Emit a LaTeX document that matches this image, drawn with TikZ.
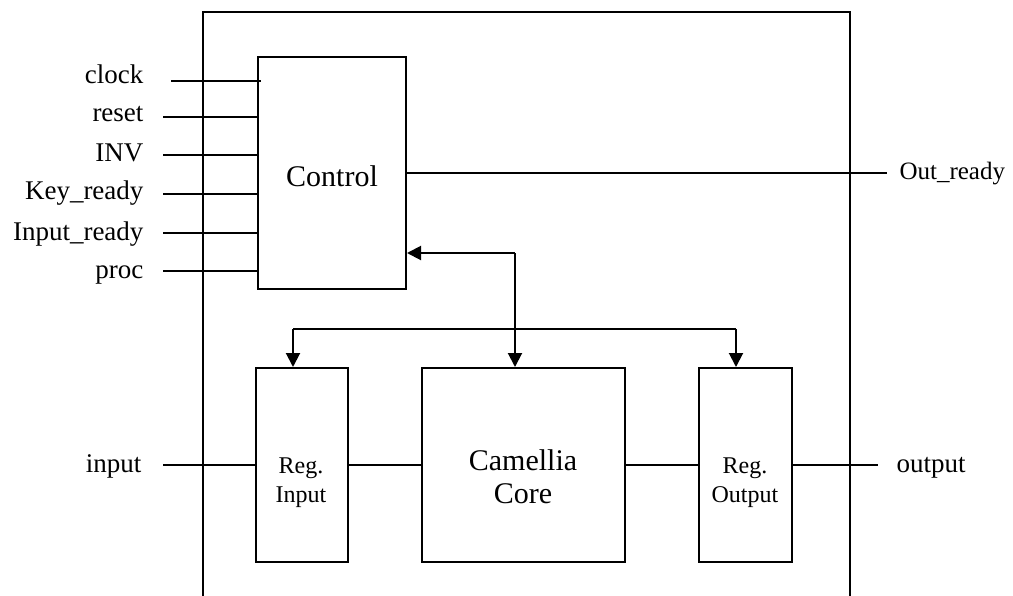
\documentclass[tikz,border=0pt]{standalone}
\usepackage{fontspec}
\setmainfont{Liberation Serif}
\usetikzlibrary{arrows.meta}

\newcommand{\fsz}[1]{\fontsize{#1}{#1}\selectfont}

\begin{document}
\begin{tikzpicture}[x=1pt,y=-1pt,
    wire/.style={line width=2pt},
    arr/.style={line width=2pt,-{Triangle[length=14pt,width=14pt]}},
    blk/.style={draw,line width=2pt,rectangle,inner sep=0pt},
    sig/.style={font=\fsz{27}},
    big/.style={font=\fsz{30}},
    reg/.style={font=\fsz{24},align=center}]
  \useasboundingbox (0,0) rectangle (1013,595);

  % enclosing entity (open at the bottom)
  \draw[wire] (203,600) -- (203,12) -- (850,12) -- (850,600);

  % blocks
  \node[blk,minimum width=148pt,minimum height=232pt] (ctrl) at (332,173) {};
  \node[blk,minimum width=92pt,minimum height=194pt] (regin) at (302,465) {};
  \node[blk,minimum width=203pt,minimum height=194pt] (core) at (523.5,465) {};
  \node[blk,minimum width=93pt,minimum height=194pt] (regout) at (745.5,465) {};

  % block titles
  \node[big,anchor=base] (ctrlT) at (332,186) {Control};
  \node[big,anchor=base] (coreT1) at (523,470) {Camellia};
  \node[big,anchor=base] (coreT2) at (523,503) {Core};
  \node[reg,anchor=base] (reginT1) at (301,473) {Reg.};
  \node[reg,anchor=base] (reginT2) at (301,502) {Input};
  \node[reg,anchor=base] (regoutT1) at (745,473) {Reg.};
  \node[reg,anchor=base] (regoutT2) at (745,502) {Output};

  % control inputs
  \coordinate (clk) at (171,81);
  \coordinate (rst) at (163,117);
  \coordinate (inv) at (163,155);
  \coordinate (kr)  at (163,194);
  \coordinate (ir)  at (163,233);
  \coordinate (prc) at (163,271);
  \draw[wire] (clk) -- ([xshift=4pt]ctrl.west |- clk);
  \foreach \p in {rst,inv,kr,ir,prc}
    \draw[wire] (\p) -- (ctrl.west |- \p);

  \node[sig,anchor=base east] (lclk) at (147,83.3) {clock};
  \node[sig,anchor=base east] (lrst) at (147,121.7) {reset};
  \node[sig,anchor=base east] (linv) at (147,161.5) {INV};
  \node[sig,anchor=base east] (lkr)  at (147,199) {Key\_ready};
  \node[sig,anchor=base east] (lir)  at (147,240) {Input\_ready};
  \node[sig,anchor=base east] (lprc) at (147,278) {proc};

  % control output
  \coordinate (ordy) at (887,173);
  \draw[wire] (ctrl.east) -- (ordy);
  \node[sig,anchor=base west,font=\fsz{25}] (lordy) at (896,179.5) {Out\_ready};

  % control bus
  \coordinate (j) at (515,253);
  \coordinate (bl) at (293,329);
  \coordinate (br) at (736,329);
  \draw[arr] (j) -- (ctrl.east |- j);
  \draw[arr] (j) -- (core.north -| j);
  \draw[wire] (bl) -- (br);
  \draw[arr] (bl) -- (regin.north -| bl);
  \draw[arr] (br) -- (regout.north -| br);

  % data path
  \coordinate (din) at (163,465);
  \coordinate (dout) at (878,465);
  \draw[wire] (din) -- (regin.west);
  \draw[wire] (regin.east) -- (core.west);
  \draw[wire] (core.east) -- (regout.west);
  \draw[wire] (regout.east) -- (dout);
  \node[sig,anchor=base east] (lin) at (145,472) {input};
  \node[sig,anchor=base west] (lout) at (893,472) {output};
\end{tikzpicture}
\end{document}
